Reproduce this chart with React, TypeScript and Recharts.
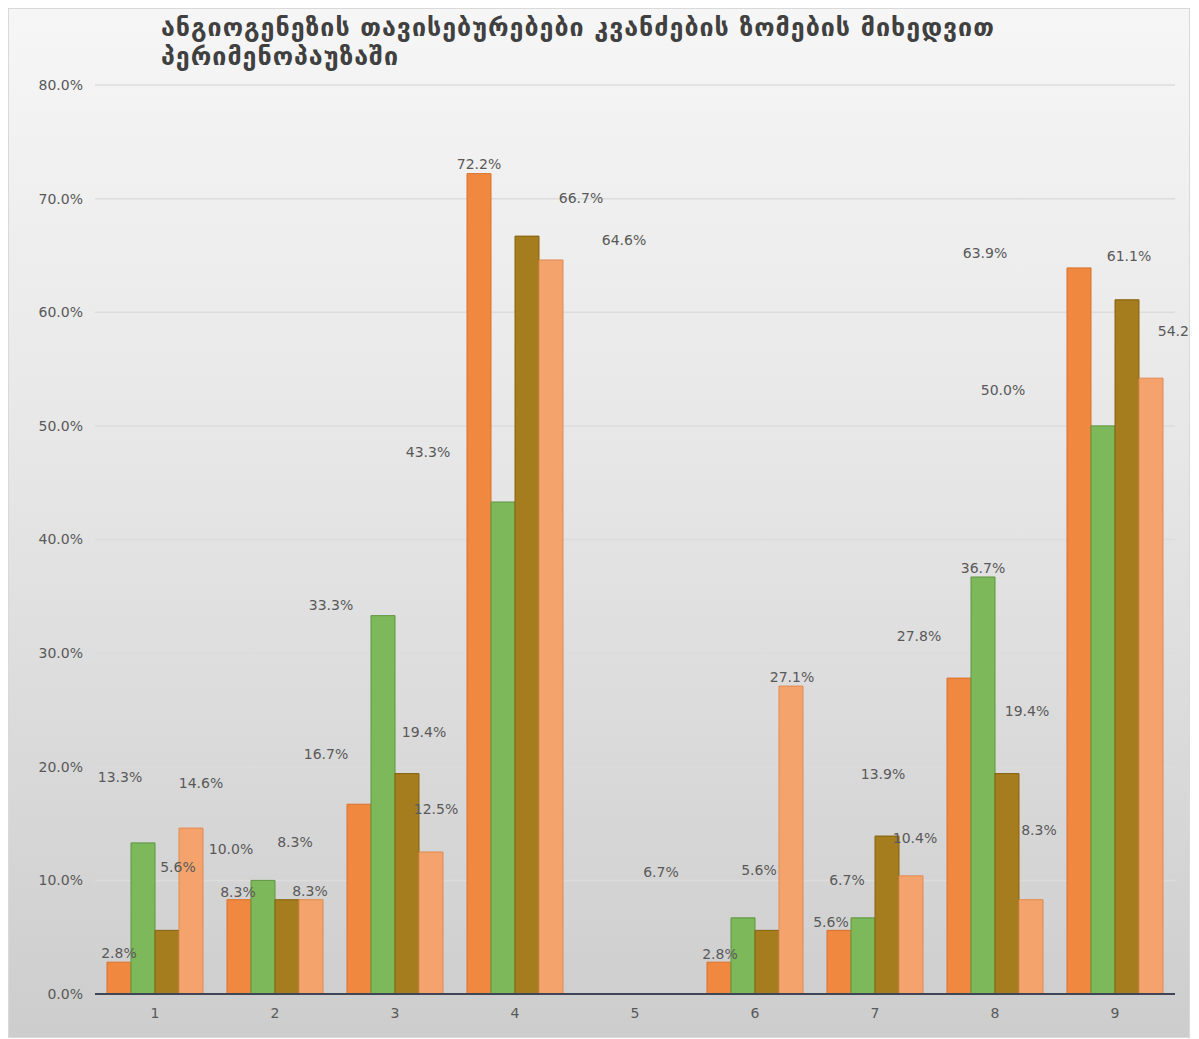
import { BarChart, Bar, XAxis, YAxis, CartesianGrid, LabelList } from 'recharts';

const categories = ['1', '2', '3', '4', '5', '6', '7', '8', '9'];

// shares per node-size group, in percent (group 5 has no values)
const seriesA = [2.8, 8.3, 16.7, 72.2, null, 2.8, 5.6, 27.8, 63.9];
const seriesB = [13.3, 10.0, 33.3, 43.3, null, 6.7, 6.7, 36.7, 50.0];
const seriesC = [5.6, 8.3, 19.4, 66.7, null, 5.6, 13.9, 19.4, 61.1];
const seriesD = [14.6, 8.3, 12.5, 64.6, null, 27.1, 10.4, 8.3, 54.2];

const yTicks = [0, 10, 20, 30, 40, 50, 60, 70, 80];

const TITLE_1 = 'ანგიოგენეზის თავისებურებები კვანძების ზომების მიხედვით';
const TITLE_2 = 'პერიმენოპაუზაში';

// hand-placed label positions: [dx, dy] of label centre from the bar's top centre
const labelShift: number[][][] = [
  [[0, -9], [-1, -8], [-33, -50], [0, -10], [0, 0], [1, -8], [-8, -8], [-40, -42], [-94, -15]],
  [[-23, -66], [-32, -31], [-52, -11], [-75, -50], [0, 0], [-82, -46], [-16, -38], [0, -9], [-100, -36]],
  [[11, -63], [8, -58], [17, -42], [54, -38], [0, 0], [-8, -60], [-4, -62], [20, -63], [2, -44]],
  [[10, -45], [-1, -9], [5, -43], [73, -20], [0, 0], [1, -9], [4, -38], [8, -70], [29, -47]],
];

const data = categories.map((name, i) => ({
  name,
  a: seriesA[i],
  b: seriesB[i],
  c: seriesC[i],
  d: seriesD[i],
}));

const bars = [
  { key: 'a', fill: '#F0883F', stroke: '#D9702A' },
  { key: 'b', fill: '#7DB85A', stroke: '#5E9440' },
  { key: 'c', fill: '#A57C1E', stroke: '#86620F' },
  { key: 'd', fill: '#F4A36C', stroke: '#E08A52' },
];

const FONT = 'DejaVu Sans, sans-serif';
const tickStyle = { fill: '#595959', fontSize: 14, fontFamily: FONT };

const CHART_W = 1180;
const MARGIN = { top: 76, right: 14, bottom: 12, left: 11 };
const Y_AXIS_W = 75;
const PLOT_LEFT = MARGIN.left + Y_AXIS_W;
const BAND = (CHART_W - PLOT_LEFT - MARGIN.right) / categories.length;

function makeLabel(s: number) {
  return (props: any) => {
    const { x, y, width, value } = props;
    if (value == null) return null;
    const cx = Number(x) + Number(width) / 2;
    // LabelList skips empty points, so find the category from the bar position
    const cat = Math.floor((cx - PLOT_LEFT) / BAND);
    const [dx, dy] = labelShift[s][cat] || [0, -9];
    return (
      <text
        x={cx + dx}
        y={Number(y) + dy}
        textAnchor="middle"
        dominantBaseline="central"
        fill="#595959"
        fontSize={14}
        fontFamily={FONT}
      >
        {Number(value).toFixed(1)}%
      </text>
    );
  };
}

export default function App() {
  return (
    <div
      style={{
        position: 'relative',
        width: 1182,
        height: 1030,
        border: '1px solid #d9d9d9',
        boxSizing: 'border-box',
        background: 'linear-gradient(to bottom, #f6f6f6 0%, #e6e6e6 45%, #cdcdcd 100%)',
      }}
    >
      <div
        style={{
          position: 'absolute',
          left: 152,
          top: 4,
          fontFamily: FONT,
          fontSize: 25,
          fontWeight: 'bold',
          letterSpacing: 1,
          color: '#404040',
          lineHeight: '29px',
          whiteSpace: 'nowrap',
        }}
      >
        <div>{TITLE_1}</div>
        <div>{TITLE_2}</div>
      </div>
      <BarChart
        width={CHART_W}
        height={1028}
        data={data}
        margin={MARGIN}
        barCategoryGap="10%"
        barGap={0}
        style={{ position: 'absolute', left: 0, top: 0, overflow: 'visible' }}
      >
        <CartesianGrid vertical={false} stroke="#dcdcdc" strokeWidth={1.5} />
        <XAxis
          dataKey="name"
          tick={tickStyle}
          tickLine={false}
          tickSize={0}
          tickMargin={14}
          height={31}
          axisLine={{ stroke: '#3f4658', strokeWidth: 2 }}
        />
        <YAxis
          domain={[0, 80]}
          ticks={yTicks}
          tick={tickStyle}
          tickFormatter={(v: number) => `${v.toFixed(1)}%`}
          tickLine={false}
          tickSize={0}
          tickMargin={12}
          axisLine={false}
          width={Y_AXIS_W}
        />
        {bars.map((b, s) => (
          <Bar key={b.key} dataKey={b.key} fill={b.fill} stroke={b.stroke} strokeWidth={1} isAnimationActive={false}>
            <LabelList dataKey={b.key} content={makeLabel(s)} />
          </Bar>
        ))}
      </BarChart>
    </div>
  );
}
